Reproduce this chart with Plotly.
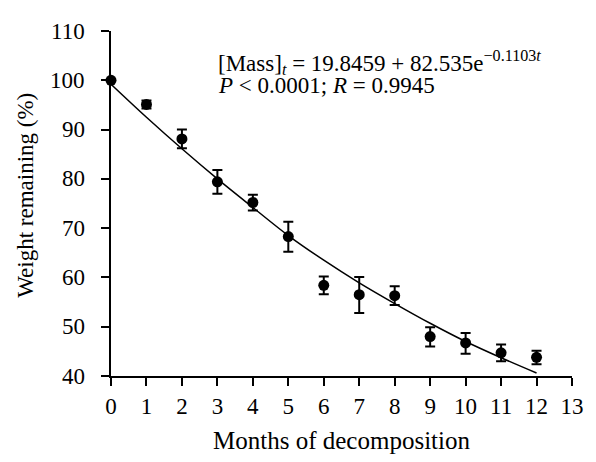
import plotly.graph_objects as go

months = [0, 1, 2, 3, 4, 5, 6, 7, 8, 9, 10, 11, 12]
weight = [100.0, 95.1, 88.1, 79.4, 75.2, 68.3, 58.4, 56.5, 56.3, 48.0, 46.7, 44.7, 43.8]
err_up = [0.0, 0.8, 1.9, 2.4, 1.6, 3.0, 1.8, 3.6, 1.9, 1.9, 2.0, 1.7, 1.3]
err_down = [0.0, 0.8, 1.9, 2.4, 1.6, 3.1, 1.8, 3.7, 1.9, 2.0, 2.2, 1.7, 1.4]
fit_values = [99.2, 92.5, 86.1, 80.0, 74.2, 68.5, 63.5, 58.9, 54.7, 50.7, 47.0, 43.7, 40.6]

x_ticks = list(range(0, 14))
y_ticks = [40, 50, 60, 70, 80, 90, 100, 110]

FONT = "Liberation Serif"

fig = go.Figure()
fig.add_trace(go.Scatter(
    x=months, y=fit_values, mode="lines", line=dict(color="black", width=1.5, shape="spline"),
    cliponaxis=False, showlegend=False, hoverinfo="skip"))
fig.add_trace(go.Scatter(
    x=months, y=weight, mode="markers",
    marker=dict(color="black", size=11, symbol="circle"),
    error_y=dict(type="data", symmetric=False, array=err_up, arrayminus=err_down,
                 color="black", thickness=2, width=5),
    cliponaxis=False, showlegend=False))

fig.add_annotation(
    x=0.2267, y=0.908, xref="paper", yref="paper", xanchor="left", yanchor="middle",
    showarrow=False, align="left",
    text="[Mass]<sub><i>t</i></sub> = 19.8459 + 82.535e<sup>−0.1103<i>t</i></sup>",
    font=dict(family=FONT, size=23, color="black"))
fig.add_annotation(
    x=0.2267, y=0.843, xref="paper", yref="paper", xanchor="left", yanchor="middle",
    showarrow=False, align="left",
    text="<i>P</i> &lt; 0.0001; <i>R</i> = 0.9945",
    font=dict(family=FONT, size=23, color="black"))
# y-axis title
fig.add_annotation(
    x=-0.186, y=0.523, xref="paper", yref="paper", xanchor="center", yanchor="middle",
    showarrow=False, textangle=-90, text="Weight remaining (%)",
    font=dict(family=FONT, size=23, color="black"))
# y tick labels, placed on the y axis scale with the reference's wider gap
for v in y_ticks:
    fig.add_annotation(
        x=-0.052, y=v, xref="paper", yref="y", xanchor="right", yanchor="middle",
        showarrow=False, text=str(v), font=dict(family=FONT, size=23, color="black"))

fig.update_layout(
    width=596, height=462,
    margin=dict(l=111, r=13, t=31, b=85),
    paper_bgcolor="white", plot_bgcolor="white",
    font=dict(family=FONT, size=23, color="black"),
    xaxis=dict(range=[0, 13], tickvals=x_ticks, ticks="outside", ticklen=8, tickwidth=2,
               tickcolor="black", showline=True, linewidth=2, linecolor="black",
               showgrid=False, zeroline=False,
               title=dict(text="Months of decomposition", font=dict(size=25), standoff=14),
               tickfont=dict(size=23)),
    yaxis=dict(range=[40, 110], tickvals=y_ticks, ticks="outside",
               ticklen=8, tickwidth=2, showticklabels=False,
               tickcolor="black", showline=True, linewidth=2, linecolor="black",
               showgrid=False, zeroline=False),
)

fig.write_html("out.html")
